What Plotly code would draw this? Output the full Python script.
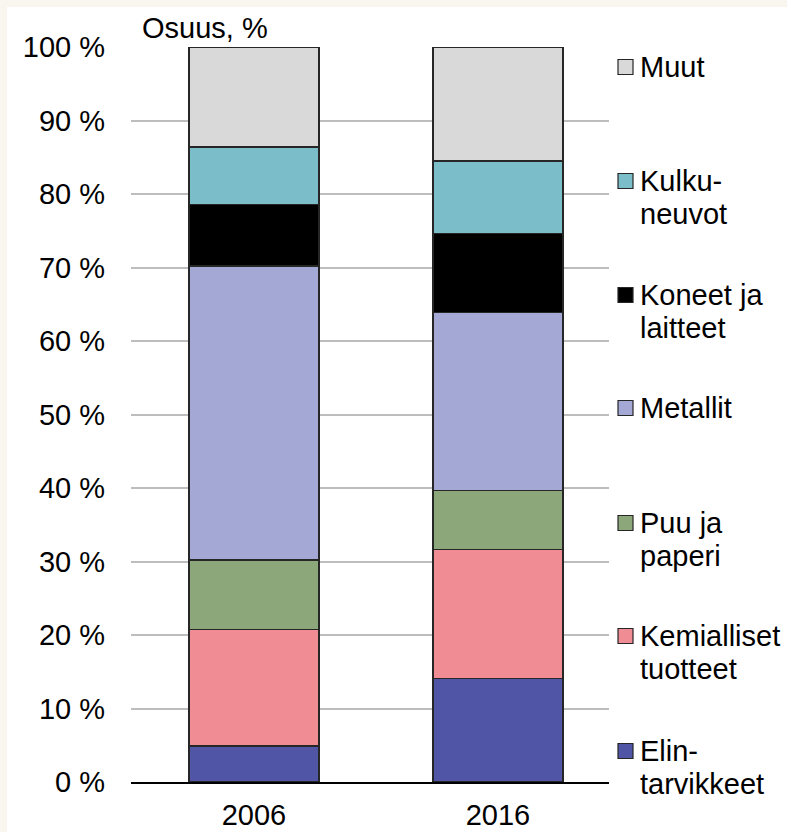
import plotly.graph_objects as go

years = ["2006", "2016"]
series_names = ["Elintarvikkeet", "Kemialliset tuotteet", "Puu ja paperi", "Metallit",
                "Koneet ja laitteet", "Kulkuneuvot", "Muut"]
legend_lines = [["Elin-", "tarvikkeet"], ["Kemialliset", "tuotteet"], ["Puu ja", "paperi"],
                ["Metallit"], ["Koneet ja", "laitteet"], ["Kulku-", "neuvot"], ["Muut"]]
elintarvikkeet = [4.9, 14.1]
kemialliset = [15.9, 17.5]
puu_paperi = [9.4, 8.1]
metallit = [40.0, 24.2]
koneet = [8.4, 10.7]
kulkuneuvot = [7.8, 9.9]
muut = [13.6, 15.5]
values = [elintarvikkeet, kemialliset, puu_paperi, metallit, koneet, kulkuneuvot, muut]
colors = ["#5055A5", "#F08C94", "#8CA87A", "#A4A8D4", "#000000", "#7BBDC8", "#D9D9D9"]
y_ticks = list(range(0, 101, 10))

W, H = 787, 832
L, R, T, B = 131, 609, 47, 782
FONT = "Liberation Sans, Arial, sans-serif"
FS = 29

def px_x(px):
    return (px - L) / (R - L)

def px_y(py):
    return (B - py) / (B - T)

fig = go.Figure()
for name, vals, col in zip(series_names, values, colors):
    fig.add_trace(go.Bar(x=years, y=vals, name=name, marker_color=col,
                         marker_line=dict(color="#262626", width=1.2),
                         width=0.533, showlegend=False, hoverinfo="skip"))

shapes = [dict(type="rect", xref="paper", yref="paper", x0=px_x(7), x1=px_x(W + 5),
               y0=px_y(7), y1=px_y(H + 5), fillcolor="white", line=dict(width=0), layer="below")]
annotations = [dict(text="Osuus, %", xref="paper", yref="paper", x=px_x(140), y=px_y(28),
                    xanchor="left", yanchor="middle", showarrow=False,
                    font=dict(size=FS, family=FONT, color="black"))]

legend_y = [751, 636, 523, 408, 295, 181, 67]
for lines, col, cy in zip(legend_lines, colors, legend_y):
    shapes.append(dict(type="rect", xref="paper", yref="paper", x0=px_x(618), x1=px_x(633),
                       y0=px_y(cy + 7.5), y1=px_y(cy - 7.5), fillcolor=col,
                       line=dict(color="#262626", width=1.2)))
    for i, ln in enumerate(lines):
        annotations.append(dict(text=ln, xref="paper", yref="paper", x=px_x(638),
                                y=px_y(cy + i * 33), xanchor="left", yanchor="middle",
                                showarrow=False, font=dict(size=FS, family=FONT, color="black")))

fig.update_layout(
    barmode="stack",
    width=W, height=H, autosize=False,
    margin=dict(l=L, r=W - R, t=T, b=H - B, pad=0, autoexpand=False),
    paper_bgcolor="#F9F5EF",
    plot_bgcolor="rgba(0,0,0,0)",
    font=dict(family=FONT, size=FS, color="black"),
    shapes=shapes,
    annotations=annotations,
)
fig.update_yaxes(range=[0, 100], tickvals=y_ticks, ticktext=[f"{v} %" for v in y_ticks],
                 showgrid=True, gridcolor="#BDBDBD", gridwidth=1.5, zeroline=False,
                 showline=False, ticks="", ticklabelstandoff=25, fixedrange=True,
                 automargin=False)
fig.update_xaxes(range=[-0.504, 1.455], showline=True, linecolor="black", linewidth=1.5,
                 ticks="", ticklabelstandoff=6, fixedrange=True, automargin=False)

fig.write_html("out.html", config={"displayModeBar": False},
               post_script="document.body.style.margin='0px';")
